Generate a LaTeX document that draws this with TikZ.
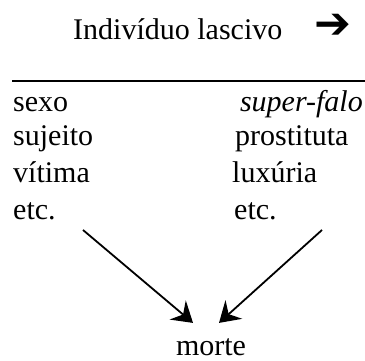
\documentclass[tikz,border=0pt]{standalone}
\usepackage{fontspec}
\setmainfont{Liberation Serif}
\newfontfamily\symbolfont{DejaVu Sans Bold}
\usetikzlibrary{arrows.meta,calc}

\begin{document}
\begin{tikzpicture}[x=1pt,y=1pt,
  word/.style={inner sep=0pt, font=\fontsize{30}{36}\selectfont},
  arr/.style={line width=1.8pt, -{Stealth[length=20pt,width=25pt,inset=7pt]}}]

  \useasboundingbox (0,0) rectangle (365,361);

  % título
  \node[word, anchor=base west] (titulo) at (73,321) {Indivíduo lascivo};
  \node[inner sep=0pt, font=\symbolfont\fontsize{44}{50}\selectfont] (seta) at (333,335) {➔};

  % linha
  \draw[line width=1.5pt] (12,280) -- (365,280);

  % coluna esquerda
  \node[word, anchor=base west] (sexo) at (13,249) {sexo};
  \node[word, anchor=base west] (sujeito) at (13,215) {sujeito};
  \node[word, anchor=base west] (vitima) at (13,178) {vítima};
  \node[word, anchor=base west] (etcA) at (13,141) {etc.};

  % coluna direita
  \node[word, anchor=base east] (falo) at (363,249) {\itshape super-falo};
  \node[word, anchor=base west] (prostituta) at (235,215) {prostituta};
  \node[word, anchor=base west] (luxuria) at (232,178) {luxúria};
  \node[word, anchor=base west] (etcB) at (234,141) {etc.};

  % morte
  \node[word, anchor=base] (morte) at (211,5) {morte};

  % setas
  \coordinate (inicioA) at (83,131);
  \coordinate (inicioB) at (322,131);
  \coordinate (fimA) at ($(morte.north)+(-18,16)$);
  \coordinate (fimB) at ($(morte.north)+(8,16)$);
  \draw[arr] (inicioA) -- (fimA);
  \draw[arr] (inicioB) -- (fimB);

\end{tikzpicture}
\end{document}
